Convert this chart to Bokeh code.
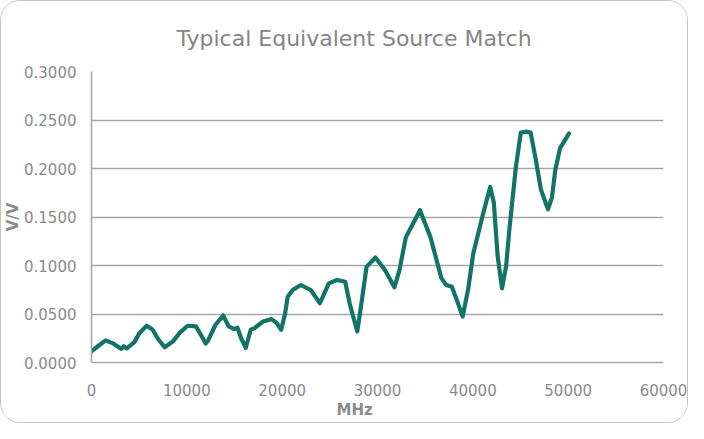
from bokeh.plotting import figure
from bokeh.models import Range1d, FixedTicker, PrintfTickFormatter, Title
from bokeh.embed import file_html
from bokeh.resources import INLINE

# ---- data ----
freq_mhz = [0, 700, 1480, 2200, 3130, 3375, 3700, 4500, 5000, 5780, 6400, 7000,
            7680, 8540, 9300, 10090, 10950, 11500, 11980, 12250, 13010, 13810,
            14390, 14970, 15300, 15700, 16180, 16700, 17100, 18000, 18870, 19400,
            19900, 20300, 20580, 21100, 21960, 23000, 23960, 24890, 25750, 26610,
            27100, 27880, 28300, 28850, 29780, 30800, 31770, 32300, 32970, 34460,
            35560, 36700, 37200, 37800, 38300, 38930, 39500, 40040, 41070, 41820,
            42200, 42600, 43060, 43500, 43820, 44510, 45030, 45600, 46060, 46570,
            47150, 47880, 48300, 48640, 49150, 50080]
match_vv = [0.0116, 0.017, 0.0228, 0.020, 0.014, 0.0167, 0.0145, 0.021, 0.030,
            0.0379, 0.034, 0.024, 0.0157, 0.0218, 0.031, 0.0379, 0.0372, 0.028,
            0.0195, 0.023, 0.0389, 0.0484, 0.0372, 0.0345, 0.036, 0.025, 0.015,
            0.0338, 0.0355, 0.0423, 0.0447, 0.041, 0.0338, 0.050, 0.0679, 0.0747,
            0.0799, 0.0747, 0.0611, 0.0816, 0.085, 0.0833, 0.060, 0.032, 0.060,
            0.0986, 0.1082, 0.095, 0.0775, 0.095, 0.129, 0.157, 0.129, 0.087,
            0.080, 0.078, 0.065, 0.0474, 0.075, 0.112, 0.153, 0.181, 0.165, 0.110,
            0.0765, 0.100, 0.136, 0.201, 0.237, 0.238, 0.237, 0.211, 0.178, 0.158,
            0.170, 0.198, 0.221, 0.236]
x_ticks = [0, 10000, 20000, 30000, 40000, 50000, 60000]
y_ticks = [0.0, 0.05, 0.10, 0.15, 0.20, 0.25, 0.30]
title_text = "Typical Equivalent Source Match"
x_label = "MHz"
y_label = "V/V"

GRAY = "#a6a6a6"
TXT = "#8a8a8a"
FONT = "DejaVu Sans"

p = figure(width=688, height=423, output_backend="svg", toolbar_location=None,
           x_range=Range1d(0, 60000), y_range=Range1d(0, 0.3),
           min_border_left=89, min_border_right=26, min_border_top=70,
           min_border_bottom=62)
p.outline_line_color = None
p.background_fill_color = "white"
p.border_fill_color = "white"
p.styles = {"border": "1.3px solid #c4c4c4", "border-radius": "20px",
            "overflow": "hidden"}

# main title
p.title.text = title_text
p.title.align = "left"
p.title.offset = 85
p.title.standoff = 41
p.title.text_font = FONT
p.title.text_font_size = "22px"
p.title.text_font_style = "normal"
p.title.text_color = "#858585"

p.xgrid.visible = False
p.ygrid.ticker = FixedTicker(ticks=y_ticks)
p.ygrid.grid_line_color = GRAY
p.ygrid.grid_line_width = 1.6

for ax in (p.xaxis[0], p.yaxis[0]):
    ax.axis_line_color = GRAY
    ax.axis_line_width = 1.6
    ax.major_tick_line_color = None
    ax.minor_tick_line_color = None
    ax.major_tick_out = 0
    ax.major_tick_in = 0
    ax.minor_tick_out = 0
    ax.major_label_text_color = TXT
    ax.major_label_text_font = FONT
    ax.major_label_text_font_size = "15px"

p.xaxis.ticker = FixedTicker(ticks=x_ticks)
p.xaxis.major_label_standoff = 21
p.yaxis.ticker = FixedTicker(ticks=y_ticks)
p.yaxis.formatter = PrintfTickFormatter(format="%.4f")
p.yaxis.major_label_standoff = 15

# axis names as side titles for exact placement
p.add_layout(Title(text=y_label, align="center", standoff=0,
                   text_font=FONT, text_font_size="15px",
                   text_font_style="bold", text_color=TXT), "left")
p.add_layout(Title(text=x_label, align="left", offset=245, standoff=4,
                   vertical_align="top", text_font=FONT, text_font_size="15px",
                   text_font_style="bold", text_color=TXT), "below")

p.line(freq_mhz, match_vv, line_color="#117466", line_width=4.2,
       line_join="round", line_cap="round")

open("out.html", "w").write(file_html(p, INLINE))
